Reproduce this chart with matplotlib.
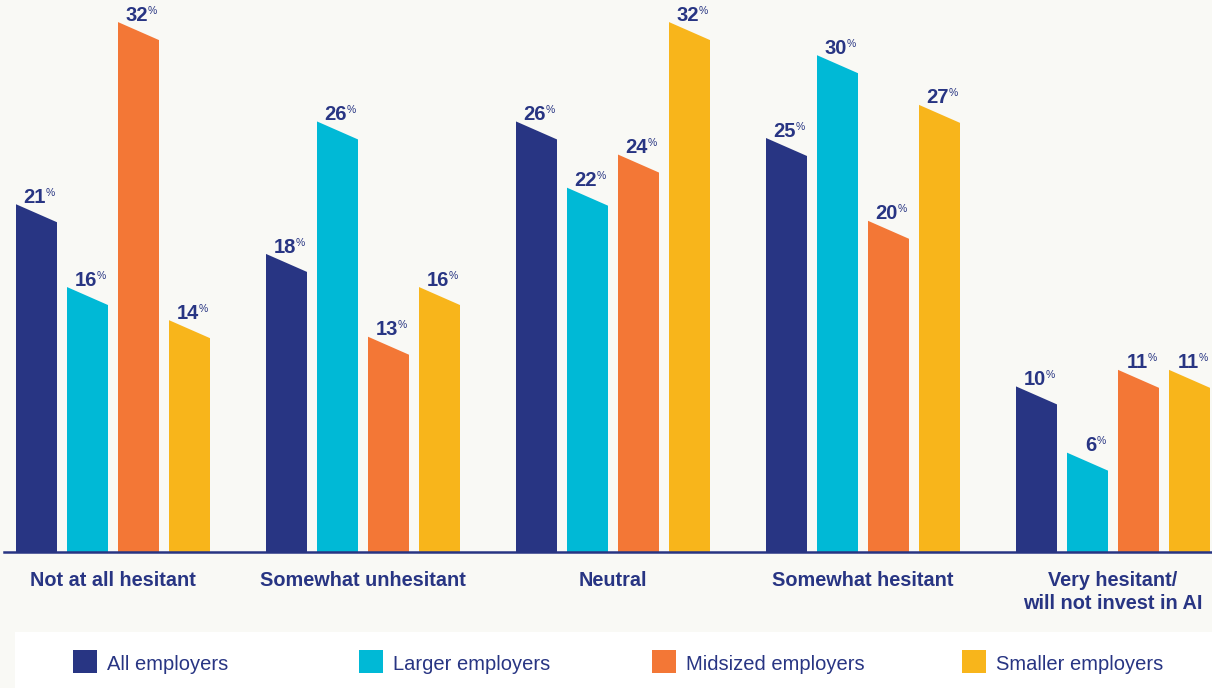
import matplotlib
matplotlib.use("Agg")
import matplotlib.pyplot as plt
from matplotlib.patches import Polygon, Rectangle
from matplotlib.transforms import blended_transform_factory

plt.rcParams["font.family"] = ["Liberation Sans", "DejaVu Sans"]

# Survey data: share of employers (%) by hesitancy to invest in AI
categories = [
    "Not at all hesitant",
    "Somewhat unhesitant",
    "Neutral",
    "Somewhat hesitant",
    "Very hesitant/\nwill not invest in AI",
]
series_names = ["All employers", "Larger employers", "Midsized employers", "Smaller employers"]
all_employers = [21, 18, 26, 25, 10]
larger_employers = [16, 26, 22, 30, 6]
midsized_employers = [32, 13, 24, 20, 11]
smaller_employers = [14, 16, 32, 27, 11]

series_values = [all_employers, larger_employers, midsized_employers, smaller_employers]
series_colors = ["#283583", "#00B9D6", "#F37736", "#F8B51B"]
NAVY = "#283583"
BG = "#F9F9F5"

# Figure geometry (pixels at 100 dpi)
W, H, DPI = 1212, 688, 100
GROUP_PX = 250          # distance between group centres
FIRST_CENTER_PX = 113   # centre of first group
BASE_PX = 136           # baseline height from the bottom
PX_PER_PCT = 16.56

fig = plt.figure(figsize=(W / DPI, H / DPI), dpi=DPI, facecolor=BG)
ax = fig.add_axes([0, BASE_PX / H, 1, 1 - BASE_PX / H])
ax.set_xlim(-FIRST_CENTER_PX / GROUP_PX, (W - FIRST_CENTER_PX) / GROUP_PX)
ax.set_ylim(0, (H - BASE_PX) / PX_PER_PCT)
ax.axis("off")

bar_w = 41 / GROUP_PX
step = 51 / GROUP_PX
slant = 18 / PX_PER_PCT  # drop of the slanted bar top

n_series = len(series_values)
for j, (vals, color) in enumerate(zip(series_values, series_colors)):
    for i, v in enumerate(vals):
        xc = i + (j - (n_series - 1) / 2) * step
        x0, x1 = xc - bar_w / 2, xc + bar_w / 2
        ax.add_patch(Polygon([(x0, 0), (x0, v), (x1, v - slant), (x1, 0)],
                             closed=True, facecolor=color, edgecolor="none", zorder=2))
        num = ax.annotate(f"{v}", xy=(x1, v), xytext=(-8.0, 1.0), textcoords="offset points",
                          ha="right", va="baseline", fontsize=14.5, fontweight="bold",
                          color=NAVY, zorder=4)
        ax.annotate("%", xy=(1, 1), xycoords=num, xytext=(0.1, 0), textcoords="offset points",
                    ha="left", va="top", fontsize=7.5, color=NAVY, zorder=4)

# Baseline
ax.axhline(0, xmin=4 / W, xmax=1, color=NAVY, lw=1.8, zorder=3, clip_on=False)

# Category labels
trans = blended_transform_factory(ax.transData, fig.transFigure)
for i, cat in enumerate(categories):
    ax.text(i, 1 - 571 / H, cat, ha="center", va="top", fontsize=14.3, fontweight="bold",
            color=NAVY, linespacing=1.25, transform=trans)

# Legend strip
fig.add_artist(Rectangle((15 / W, 0), 1 - 15 / W, 56 / H, transform=fig.transFigure,
                         facecolor="white", edgecolor="none", zorder=0))
legend_x_px = [73, 359, 652, 962]
for name, color, lx in zip(series_names, series_colors, legend_x_px):
    fig.add_artist(Rectangle((lx / W, 15 / H), 24 / W, 23 / H, transform=fig.transFigure,
                             facecolor=color, edgecolor="none", zorder=1))
    fig.text((lx + 34) / W, 18 / H, name, ha="left", va="baseline", fontsize=14.5,
             color=NAVY, zorder=1)

fig.savefig("out.png", dpi=DPI, facecolor=BG)
